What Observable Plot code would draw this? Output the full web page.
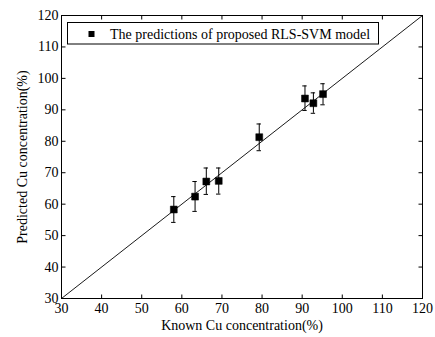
<!DOCTYPE html>
<html>
<head>
<meta charset="utf-8">
<script src="https://cdn.jsdelivr.net/npm/d3@7"></script>
<script src="https://cdn.jsdelivr.net/npm/@observablehq/plot@0.6"></script>
<style>
  html, body { margin: 0; padding: 0; background: #fff; }
  svg { display: block; }
</style>
</head>
<body>
<div id="chart"></div>
<script>
// Known vs. predicted Cu concentration (%) with prediction error bars
const known     = [58.0, 63.3, 66.1, 69.2, 79.3, 90.7, 92.8, 95.2];
const predicted = [58.3, 62.4, 67.2, 67.4, 81.3, 93.6, 92.1, 95.0];
const errLow    = [54.2, 57.7, 63.1, 63.2, 77.0, 89.8, 88.9, 91.6];
const errHigh   = [62.4, 67.2, 71.5, 71.5, 85.5, 97.6, 95.4, 98.3];
const tickValues = [30, 40, 50, 60, 70, 80, 90, 100, 110, 120];
const diagonal = [30, 120];
const legendLabel = "The predictions of proposed RLS-SVM model";
const xLabel = "Known Cu concentration(%)";
const yLabel = "Predicted Cu concentration(%)";

const points = known.map((k, i) => ({
  known: k, predicted: predicted[i], low: errLow[i], high: errHigh[i]
}));
const capHalf = 0.55;

const font = "'Liberation Serif', 'Times New Roman', serif";

// short tick segments pointing into the frame
const tickLen = 4;
const tickSymbol = (dx, dy) => ({
  draw(ctx) { ctx.moveTo(0, 0); ctx.lineTo(dx * tickLen, dy * tickLen); }
});
const tickStyle = { stroke: "#000", strokeWidth: 1, fill: "none", r: 4 };

const chart = Plot.plot({
  width: 435,
  height: 337,
  marginLeft: 61,
  marginRight: 13,
  marginTop: 15,
  marginBottom: 39,
  style: { fontFamily: font, fontSize: "14px", background: "#fff", color: "#000" },
  x: { domain: [30, 120], ticks: tickValues },
  y: { domain: [30, 120], ticks: tickValues },
  marks: [
    Plot.frame({ stroke: "#000", strokeWidth: 1 }),
    // inward ticks on all four sides
    Plot.dot(tickValues, { x: d => d, y: () => 30, symbol: tickSymbol(0, -1), ...tickStyle }),
    Plot.dot(tickValues, { x: d => d, y: () => 120, symbol: tickSymbol(0, 1), ...tickStyle }),
    Plot.dot(tickValues, { y: d => d, x: () => 30, symbol: tickSymbol(1, 0), ...tickStyle }),
    Plot.dot(tickValues, { y: d => d, x: () => 120, symbol: tickSymbol(-1, 0), ...tickStyle }),
    // tick labels
    Plot.axisX(tickValues, { anchor: "bottom", tickSize: 0, tickPadding: 5, label: null, fill: "#000", fontSize: 14 }),
    Plot.axisY(tickValues, { anchor: "left", tickSize: 0, tickPadding: 3, label: null, fill: "#000", fontSize: 14 }),
    // axis titles
    Plot.text([xLabel], { frameAnchor: "bottom", dy: 31, text: d => d, fill: "#000", fontSize: 14 }),
    Plot.text([yLabel], { frameAnchor: "left", dx: -39, rotate: -90, textAnchor: "middle", text: d => d, fill: "#000", fontSize: 14 }),
    // y = x reference line
    Plot.line(diagonal.map(v => ({ x: v, y: v })), { x: "x", y: "y", stroke: "#000", strokeWidth: 0.9 }),
    // error bars with caps
    Plot.ruleX(points, { x: "known", y1: "low", y2: "high", stroke: "#000", strokeWidth: 1 }),
    Plot.ruleY(points, { y: "low", x1: d => d.known - capHalf, x2: d => d.known + capHalf, stroke: "#000", strokeWidth: 1 }),
    Plot.ruleY(points, { y: "high", x1: d => d.known - capHalf, x2: d => d.known + capHalf, stroke: "#000", strokeWidth: 1 }),
    // prediction markers
    Plot.dot(points, { x: "known", y: "predicted", symbol: "square", r: 3.9, fill: "#000", stroke: "#000", strokeWidth: 0.5 })
  ]
});

// Legend box drawn inside the plot area
const svg = d3.select(chart);
const lg = svg.append("g");
lg.append("rect")
  .attr("x", 67.5).attr("y", 22.5).attr("width", 311).attr("height", 21.5)
  .attr("fill", "#fff").attr("stroke", "#000").attr("stroke-width", 1);
lg.append("rect")
  .attr("x", 88.5).attr("y", 31).attr("width", 6).attr("height", 6)
  .attr("fill", "#000");
lg.append("text")
  .attr("x", 110).attr("y", 38.5)
  .attr("text-anchor", "start")
  .attr("font-family", font).attr("font-size", 14).attr("fill", "#000")
  .text(legendLabel);

document.getElementById("chart").appendChild(chart);
</script>
</body>
</html>
